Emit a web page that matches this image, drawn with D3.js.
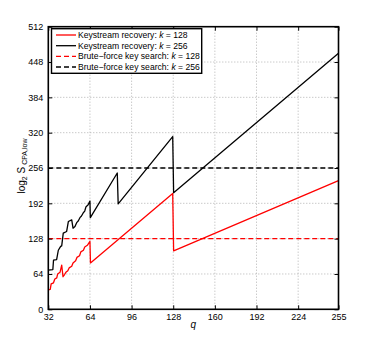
<!DOCTYPE html>
<html>
<head>
<meta charset="utf-8">
<script src="https://cdn.jsdelivr.net/npm/d3@7"></script>
<style>
  body { margin: 0; background: #fff; }
  svg text { font-family: "Liberation Sans", Arial, sans-serif; }
</style>
</head>
<body>
<div id="chart"></div>
<script>
// Values (q, log2 S)
var qTicks = [32, 64, 96, 128, 160, 192, 224, 255];
var vTicks = [0, 64, 128, 192, 256, 320, 384, 448, 512];

var redQ = [32, 33.5, 34.2, 36, 37, 38.5, 39.2, 41, 42.3, 43.3, 44.5, 45.5, 47, 48, 50, 51, 53, 54, 56, 57, 59, 60, 62, 64, 64.4, 127.6, 128.3, 255];
var redV = [35, 36, 46, 48, 55, 57, 64, 67, 80, 59, 63, 67, 70, 75, 78, 84, 88, 94, 97, 104, 107, 113, 116, 123, 84, 210, 106, 233];

var blackQ = [32, 35.5, 36, 38.4, 39.7, 41.5, 42.3, 43.5, 46.1, 47.4, 50, 51, 52.5, 53.8, 55, 56.3, 57.5, 58.9, 60, 61, 62.5, 64, 64.3, 85, 85.7, 127.6, 128.3, 255];
var blackV = [71, 72, 89, 90, 107, 114, 115, 138, 141, 159, 162, 147, 150, 157, 160, 166, 169, 175, 178, 186, 189, 196, 166, 247, 191, 313, 211, 464];

var bruteLevels = [128, 256];
var seriesNames = [
  ['Keystream recovery: ', 'k', ' = 128'],
  ['Keystream recovery: ', 'k', ' = 256'],
  ['Brute\u2212force key search: ', 'k', ' = 128'],
  ['Brute\u2212force key search: ', 'k', ' = 256']
];
var seriesColors = ['#ff0000', '#000000', '#ff0000', '#000000'];
var seriesDash = [null, null, '5,3', '5,3'];

var W = 374, H = 349;
var m = { left: 48.3, right: 338.5, top: 26.7, bottom: 309.3 };

var svg = d3.select('#chart').append('svg')
    .attr('width', W)
    .attr('height', H);

var x = d3.scaleLinear().domain([32, 255]).range([m.left, m.right]);
var y = d3.scaleLinear().domain([0, 512]).range([m.bottom, m.top]);

// grid
var grid = svg.append('g').attr('stroke', '#a0a0a0').attr('stroke-width', 0.8).attr('stroke-dasharray', '1,2');
qTicks.slice(1, -1).forEach(function (q) {
  grid.append('line').attr('x1', x(q)).attr('x2', x(q)).attr('y1', m.top).attr('y2', m.bottom);
});
vTicks.slice(1, -1).forEach(function (v) {
  grid.append('line').attr('x1', m.left).attr('x2', m.right).attr('y1', y(v)).attr('y2', y(v));
});

// curves
function pairs(qs, vs) {
  return qs.map(function (q, i) { return [q, vs[i]]; });
}
var line = d3.line().x(function (d) { return x(d[0]); }).y(function (d) { return y(d[1]); });

svg.append('path').datum(pairs(redQ, redV))
    .attr('d', line).attr('fill', 'none').attr('stroke', seriesColors[0]).attr('stroke-width', 1.3)
    .attr('stroke-linejoin', 'round');
svg.append('path').datum(pairs(blackQ, blackV))
    .attr('d', line).attr('fill', 'none').attr('stroke', seriesColors[1]).attr('stroke-width', 1.3)
    .attr('stroke-linejoin', 'round');

bruteLevels.forEach(function (lv, i) {
  svg.append('line')
      .attr('x1', x(32)).attr('x2', x(255))
      .attr('y1', y(lv)).attr('y2', y(lv))
      .attr('stroke', seriesColors[i + 2]).attr('stroke-width', 1.3)
      .attr('stroke-dasharray', seriesDash[i + 2]);
});

// axes
var fmt = d3.format('d');
var gx = svg.append('g').attr('transform', 'translate(0,' + m.bottom + ')')
    .call(d3.axisBottom(x).tickValues(qTicks).tickFormat(fmt).tickSize(-4).tickPadding(4));
var gy = svg.append('g').attr('transform', 'translate(' + m.left + ',0)')
    .call(d3.axisLeft(y).tickValues(vTicks).tickFormat(fmt).tickSize(-4).tickPadding(5));
var gt = svg.append('g').attr('transform', 'translate(0,' + m.top + ')')
    .call(d3.axisTop(x).tickValues(qTicks).tickFormat('').tickSize(-4));
var gr = svg.append('g').attr('transform', 'translate(' + m.right + ',0)')
    .call(d3.axisRight(y).tickValues(vTicks).tickFormat('').tickSize(-4));

[gx, gy, gt, gr].forEach(function (g) {
  g.select('.domain').remove();
  g.selectAll('line').attr('stroke', '#000').attr('stroke-width', 1);
  g.selectAll('text').attr('fill', '#000').style('font-size', '9px');
});

svg.append('rect')
    .attr('x', m.left).attr('y', m.top)
    .attr('width', m.right - m.left).attr('height', m.bottom - m.top)
    .attr('fill', 'none').attr('stroke', '#000').attr('stroke-width', 1.6);

// axis labels
svg.append('text')
    .attr('x', (m.left + m.right) / 2).attr('y', 328)
    .attr('text-anchor', 'middle')
    .style('font-size', '10px').style('font-style', 'italic')
    .text('q');

var yl = svg.append('text')
    .attr('transform', 'translate(25,166) rotate(-90)')
    .attr('text-anchor', 'middle')
    .style('font-size', '10px');
yl.append('tspan').text('log');
yl.append('tspan').attr('baseline-shift', '-30%').style('font-size', '7px').text('2');
yl.append('tspan').text(' S');
yl.append('tspan').attr('baseline-shift', '-30%').style('font-size', '7px').text(' CPA,low');

// legend
var lg = svg.append('g');
lg.append('rect')
    .attr('x', 51.5).attr('y', 28.7).attr('width', 150.2).attr('height', 44.6)
    .attr('fill', '#fff').attr('stroke', '#000').attr('stroke-width', 1.4);
var rowY = [35, 45.7, 56.3, 67];
seriesNames.forEach(function (parts, i) {
  lg.append('line')
      .attr('x1', 56).attr('x2', 76).attr('y1', rowY[i]).attr('y2', rowY[i])
      .attr('stroke', seriesColors[i]).attr('stroke-width', 1.3)
      .attr('stroke-dasharray', seriesDash[i]);
  var t = lg.append('text').attr('x', 78).attr('y', rowY[i]).attr('dy', '0.35em')
      .style('font-size', '8.6px');
  t.append('tspan').text(parts[0]);
  t.append('tspan').style('font-style', 'italic').text(parts[1]);
  t.append('tspan').text(parts[2]);
});
</script>
</body>
</html>
